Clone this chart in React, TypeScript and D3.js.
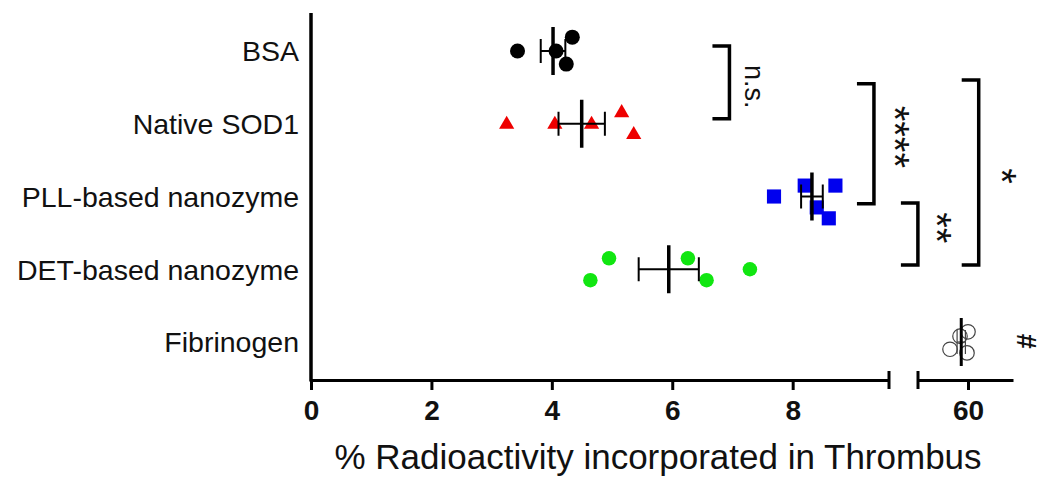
import React, { useEffect, useRef } from 'react';
import * as d3 from 'd3';

// groups, top to bottom
const groups = ['BSA', 'Native SOD1', 'PLL-based nanozyme', 'DET-based nanozyme', 'Fibrinogen'];

// individual values (% radioactivity)
const bsaValues = [3.43, 4.34, 4.07, 4.24];
const sodValues = [3.25, 4.05, 4.66, 5.16, 5.36];
const pllValues = [7.69, 8.2, 8.71, 8.4, 8.6];
const detValues = [4.95, 4.64, 6.26, 6.57, 7.29];
const fibValues = [58.2, 59.2, 60.0, 59.9];

// vertical scatter of the dots, as a fraction of a row
const bsaJitter = [0, -0.19, 0, 0.18];
const sodJitter = [0.01, 0.01, 0.01, -0.15, 0.15];
const pllJitter = [0, -0.15, -0.15, 0.15, 0.3];
const detJitter = [-0.15, 0.15, -0.15, 0.15, 0];
const fibJitter = [0.1, -0.08, -0.14, 0.15];

const xTicksLow = [0, 2, 4, 6, 8];
const xTicksHigh = [60];

// significance brackets: x of the bracket spine (in low-axis units), rows it spans
const bracketLabels = ['n.s.', '****', '**', '*'];
const bracketX = [6.95, 9.35, 10.08, 11.09];
const bracketFrom = [-0.07, 0.45, 2.09, 0.4];
const bracketTo = [0.93, 2.1, 2.94, 2.94];
const labelX = [7.2, 9.46, 10.16, 11.24];
const labelRow = [0.49, 1.18, 2.43, 1.72];

const width = 1042;
const height = 479;
const font = 'Arial, "Liberation Sans", sans-serif';

const xLow = d3.scaleLinear().domain([0, 9.6]).range([311, 889]);
const xHigh = d3.scaleLinear().domain([55, 64.5]).range([918, 1013]);
const yRow = d3.scalePoint().domain(groups).range([51, 342]);
const rowStep = yRow.step();
const rowY = (r) => yRow(groups[0]) + r * rowStep;
const axisY = 380;

const series = [
  { name: groups[0], values: bsaValues, jitter: bsaJitter, shape: d3.symbolCircle, size: 177, fill: '#000', stroke: 'none', x: xLow },
  { name: groups[1], values: sodValues, jitter: sodJitter, shape: d3.symbolTriangle, size: 100, fill: '#ee0000', stroke: 'none', x: xLow },
  { name: groups[2], values: pllValues, jitter: pllJitter, shape: d3.symbolSquare, size: 200, fill: '#0000ee', stroke: 'none', x: xLow },
  { name: groups[3], values: detValues, jitter: detJitter, shape: d3.symbolCircle, size: 165, fill: '#11e611', stroke: 'none', x: xLow },
  { name: groups[4], values: fibValues, jitter: fibJitter, shape: d3.symbolCircle, size: 165, fill: 'none', stroke: '#444', x: xHigh },
];

function XAxis({ scale, ticks }) {
  const ref = useRef(null);
  useEffect(() => {
    const axis = d3.axisBottom(scale)
      .tickValues(ticks)
      .tickSize(10)
      .tickSizeOuter(0)
      .tickPadding(10)
      .tickFormat(d3.format('d'));
    const g = d3.select(ref.current).call(axis);
    g.attr('font-family', font).attr('font-size', 28).attr('font-weight', 'bold');
    g.selectAll('path, line').attr('stroke', '#000').attr('stroke-width', 3);
    g.selectAll('text').attr('fill', '#111');
  }, [scale, ticks]);
  return <g ref={ref} transform={`translate(0,${axisY})`} />;
}

export default function App() {
  const lineGen = (x, r0, r1) => `M${x - 17},${rowY(r0)}H${x}V${rowY(r1)}H${x - 17}`;

  return (
    <svg width={width} height={height} style={{ position: 'absolute', left: 0, top: 0, background: '#fff' }}>
      {/* y axis line, no ticks */}
      <line x1={311} x2={311} y1={13} y2={axisY + 1.5} stroke="#000" strokeWidth={3.5} />
      {groups.map((g) => (
        <text key={g} x={299} y={yRow(g)} dy="0.36em" textAnchor="end"
          fontFamily={font} fontSize={28.5} fill="#111">{g}</text>
      ))}

      <XAxis scale={xLow} ticks={xTicksLow} />
      <XAxis scale={xHigh} ticks={xTicksHigh} />
      {/* axis break marks */}
      {[xLow.range()[1], xHigh.range()[0]].map((bx) => (
        <line key={bx} x1={bx} x2={bx} y1={axisY - 9} y2={axisY + 9} stroke="#000" strokeWidth={3} />
      ))}

      {/* dots */}
      {series.map((s) => (
        <g key={s.name}>
          {s.values.map((v, i) => (
            <path key={i}
              d={d3.symbol().type(s.shape).size(s.size)()}
              transform={`translate(${s.x(v)},${yRow(s.name) + s.jitter[i] * rowStep})`}
              fill={s.fill} stroke={s.stroke} strokeWidth={1.2} />
          ))}
        </g>
      ))}

      {/* mean and SEM */}
      {series.map((s) => {
        const m = d3.mean(s.values);
        const sem = d3.deviation(s.values) / Math.sqrt(s.values.length);
        const cy = yRow(s.name);
        const open = s.fill === 'none';
        const ec = open ? '#444' : '#000';
        const ew = open ? 1.2 : 2;
        return (
          <g key={s.name + '-mean'}>
            <line x1={s.x(m - sem)} x2={s.x(m + sem)} y1={cy} y2={cy} stroke={ec} strokeWidth={ew} />
            <line x1={s.x(m - sem)} x2={s.x(m - sem)} y1={cy - 12} y2={cy + 12} stroke={ec} strokeWidth={ew} />
            <line x1={s.x(m + sem)} x2={s.x(m + sem)} y1={cy - 12} y2={cy + 12} stroke={ec} strokeWidth={ew} />
            <line x1={s.x(m)} x2={s.x(m)} y1={cy - 24} y2={cy + 24} stroke="#000" strokeWidth={open ? 3 : 3.5} />
          </g>
        );
      })}

      {/* significance brackets */}
      {bracketLabels.map((lab, i) => (
        <g key={lab}>
          <path d={lineGen(xLow(bracketX[i]), bracketFrom[i], bracketTo[i])}
            fill="none" stroke="#000" strokeWidth={3.5} />
          <text transform={`translate(${xLow(labelX[i])},${rowY(labelRow[i])}) rotate(90)`}
            textAnchor="middle" fontFamily={font}
            fontSize={lab === 'n.s.' ? 27 : 40} fill="#111">{lab}</text>
        </g>
      ))}
      <text transform={`translate(${xLow(11.72)},${rowY(3.99)}) rotate(90)`}
        textAnchor="middle" fontFamily={font} fontSize={27} fontWeight="bold" fill="#111">#</text>

      <text x={658} y={469} textAnchor="middle" fontFamily={font} fontSize={35} fill="#111">
        % Radioactivity incorporated in Thrombus
      </text>
    </svg>
  );
}
